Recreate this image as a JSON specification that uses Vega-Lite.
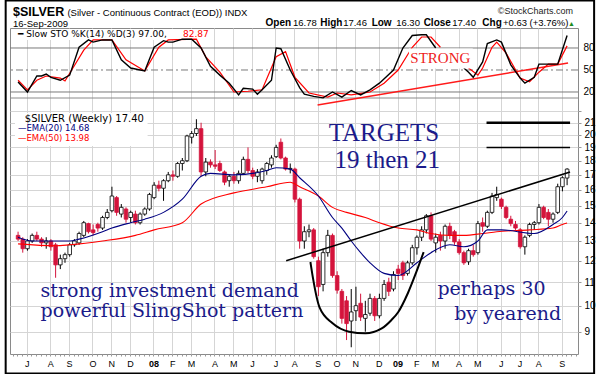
{
"$schema": "https://vega.github.io/schema/vega-lite/v6.json",
"width": 568, "height": 326,
"autosize": {"type": "none"},
"padding": {"left": 10, "top": 28, "right": 22, "bottom": 20},
"background": "white",
"config": {"view": {"stroke": "#8a8a8a", "strokeWidth": 1}},
"datasets": {
"candles": [
{"d":"2007-06-18","o":13.3,"h":13.5,"l":13.0,"c":13.1},
{"d":"2007-06-25","o":13.1,"h":13.2,"l":12.4,"c":12.6},
{"d":"2007-07-02","o":12.6,"h":13.1,"l":12.5,"c":13.0},
{"d":"2007-07-09","o":13.0,"h":13.4,"l":12.9,"c":13.3},
{"d":"2007-07-16","o":13.3,"h":13.5,"l":13.0,"c":13.1},
{"d":"2007-07-23","o":13.1,"h":13.2,"l":12.7,"c":12.9},
{"d":"2007-07-30","o":12.9,"h":13.2,"l":12.6,"c":13.0},
{"d":"2007-08-06","o":13.0,"h":13.1,"l":12.5,"c":12.7},
{"d":"2007-08-13","o":12.8,"h":12.9,"l":11.2,"c":11.8},
{"d":"2007-08-20","o":11.8,"h":12.3,"l":11.6,"c":12.1},
{"d":"2007-08-27","o":12.1,"h":12.4,"l":11.9,"c":12.3},
{"d":"2007-09-03","o":12.3,"h":12.9,"l":12.2,"c":12.8},
{"d":"2007-09-10","o":12.8,"h":13.1,"l":12.7,"c":13.0},
{"d":"2007-09-17","o":12.9,"h":13.5,"l":12.8,"c":13.4},
{"d":"2007-09-24","o":13.3,"h":14.1,"l":13.2,"c":14.0},
{"d":"2007-10-01","o":13.95,"h":14.0,"l":13.4,"c":13.5},
{"d":"2007-10-08","o":13.6,"h":13.9,"l":13.3,"c":13.45},
{"d":"2007-10-15","o":13.9,"h":14.0,"l":13.5,"c":13.7},
{"d":"2007-10-22","o":13.7,"h":14.4,"l":13.6,"c":14.3},
{"d":"2007-10-29","o":14.3,"h":14.8,"l":14.2,"c":14.6},
{"d":"2007-11-05","o":14.7,"h":16.2,"l":14.6,"c":15.6},
{"d":"2007-11-12","o":15.5,"h":15.6,"l":14.4,"c":14.6},
{"d":"2007-11-19","o":14.5,"h":15.1,"l":14.3,"c":14.9},
{"d":"2007-11-26","o":14.8,"h":14.9,"l":14.0,"c":14.2},
{"d":"2007-12-03","o":14.3,"h":14.7,"l":14.0,"c":14.6},
{"d":"2007-12-10","o":14.5,"h":14.7,"l":13.9,"c":14.0},
{"d":"2007-12-17","o":14.0,"h":14.6,"l":13.9,"c":14.5},
{"d":"2007-12-24","o":14.5,"h":14.9,"l":14.4,"c":14.8},
{"d":"2007-12-31","o":14.8,"h":15.8,"l":14.7,"c":15.7},
{"d":"2008-01-07","o":15.5,"h":16.5,"l":15.4,"c":16.3},
{"d":"2008-01-14","o":16.3,"h":16.6,"l":15.9,"c":16.1},
{"d":"2008-01-21","o":16.1,"h":16.7,"l":15.3,"c":16.6},
{"d":"2008-01-28","o":16.6,"h":17.2,"l":16.5,"c":17.0},
{"d":"2008-02-04","o":17.0,"h":17.3,"l":16.6,"c":16.9},
{"d":"2008-02-11","o":16.9,"h":17.9,"l":16.8,"c":17.8},
{"d":"2008-02-18","o":17.8,"h":18.2,"l":17.3,"c":18.0},
{"d":"2008-02-25","o":18.0,"h":20.0,"l":17.9,"c":19.9},
{"d":"2008-03-03","o":19.8,"h":20.3,"l":19.3,"c":20.1},
{"d":"2008-03-10","o":20.1,"h":21.3,"l":19.9,"c":20.5},
{"d":"2008-03-17","o":20.5,"h":21.0,"l":16.9,"c":17.2},
{"d":"2008-03-24","o":17.2,"h":18.2,"l":16.9,"c":17.9},
{"d":"2008-03-31","o":17.9,"h":18.1,"l":17.5,"c":17.7},
{"d":"2008-04-07","o":17.7,"h":18.8,"l":17.4,"c":17.6},
{"d":"2008-04-14","o":17.8,"h":18.0,"l":17.2,"c":17.3},
{"d":"2008-04-21","o":17.2,"h":17.3,"l":16.3,"c":16.5},
{"d":"2008-04-28","o":16.6,"h":17.0,"l":16.2,"c":16.9},
{"d":"2008-05-05","o":16.9,"h":17.2,"l":16.4,"c":16.6},
{"d":"2008-05-12","o":16.6,"h":17.3,"l":16.4,"c":17.1},
{"d":"2008-05-19","o":17.1,"h":18.3,"l":17.0,"c":18.1},
{"d":"2008-05-26","o":18.1,"h":19.0,"l":17.1,"c":17.3},
{"d":"2008-06-02","o":17.3,"h":17.5,"l":16.7,"c":16.9},
{"d":"2008-06-09","o":16.9,"h":17.4,"l":16.5,"c":17.2},
{"d":"2008-06-16","o":16.6,"h":17.5,"l":16.4,"c":17.4},
{"d":"2008-06-23","o":17.3,"h":17.9,"l":17.0,"c":17.8},
{"d":"2008-06-30","o":17.7,"h":18.4,"l":17.5,"c":18.2},
{"d":"2008-07-07","o":18.3,"h":19.2,"l":18.2,"c":19.0},
{"d":"2008-07-14","o":19.4,"h":19.7,"l":18.1,"c":18.2},
{"d":"2008-07-21","o":18.2,"h":18.3,"l":17.3,"c":17.4},
{"d":"2008-07-28","o":17.4,"h":17.8,"l":17.1,"c":17.45},
{"d":"2008-08-04","o":17.4,"h":17.5,"l":15.2,"c":15.4},
{"d":"2008-08-11","o":15.4,"h":15.5,"l":12.6,"c":13.0},
{"d":"2008-08-18","o":13.0,"h":13.8,"l":12.6,"c":13.5},
{"d":"2008-08-25","o":13.5,"h":13.9,"l":13.2,"c":13.6},
{"d":"2008-09-01","o":13.6,"h":13.7,"l":12.1,"c":12.2},
{"d":"2008-09-08","o":12.0,"h":12.2,"l":10.4,"c":10.8},
{"d":"2008-09-15","o":10.9,"h":12.6,"l":10.6,"c":12.4},
{"d":"2008-09-22","o":12.4,"h":13.6,"l":12.2,"c":13.3},
{"d":"2008-09-29","o":13.3,"h":13.4,"l":11.2,"c":11.3},
{"d":"2008-10-06","o":11.3,"h":11.5,"l":10.5,"c":10.65},
{"d":"2008-10-13","o":10.6,"h":10.7,"l":9.3,"c":9.5},
{"d":"2008-10-20","o":10.2,"h":10.4,"l":8.7,"c":9.3},
{"d":"2008-10-27","o":9.4,"h":10.7,"l":8.45,"c":9.75},
{"d":"2008-11-03","o":9.8,"h":10.8,"l":9.4,"c":10.0},
{"d":"2008-11-10","o":10.1,"h":10.5,"l":9.4,"c":9.55},
{"d":"2008-11-17","o":9.5,"h":10.2,"l":9.0,"c":9.65},
{"d":"2008-11-24","o":9.7,"h":10.5,"l":9.6,"c":10.3},
{"d":"2008-12-01","o":10.3,"h":10.4,"l":9.4,"c":9.6},
{"d":"2008-12-08","o":9.6,"h":10.5,"l":9.5,"c":10.3},
{"d":"2008-12-15","o":10.3,"h":11.1,"l":10.2,"c":10.9},
{"d":"2008-12-22","o":11.0,"h":11.2,"l":10.4,"c":10.6},
{"d":"2008-12-29","o":10.7,"h":11.5,"l":10.6,"c":11.35},
{"d":"2009-01-05","o":11.6,"h":11.8,"l":11.1,"c":11.4},
{"d":"2009-01-12","o":11.9,"h":12.0,"l":11.1,"c":11.3},
{"d":"2009-01-19","o":11.4,"h":12.0,"l":11.3,"c":11.9},
{"d":"2009-01-26","o":11.9,"h":12.8,"l":11.8,"c":12.65},
{"d":"2009-02-02","o":12.65,"h":13.3,"l":12.3,"c":13.2},
{"d":"2009-02-09","o":13.2,"h":13.8,"l":13.0,"c":13.6},
{"d":"2009-02-16","o":13.6,"h":14.5,"l":13.4,"c":14.4},
{"d":"2009-02-23","o":14.4,"h":14.6,"l":13.0,"c":13.1},
{"d":"2009-03-02","o":12.9,"h":13.4,"l":12.4,"c":13.2},
{"d":"2009-03-09","o":13.3,"h":13.5,"l":12.5,"c":13.0},
{"d":"2009-03-16","o":13.0,"h":13.9,"l":12.6,"c":13.8},
{"d":"2009-03-23","o":13.8,"h":14.0,"l":13.1,"c":13.3},
{"d":"2009-03-30","o":13.5,"h":13.6,"l":12.8,"c":12.95},
{"d":"2009-04-06","o":12.95,"h":13.1,"l":12.3,"c":12.4},
{"d":"2009-04-13","o":12.4,"h":12.5,"l":11.8,"c":11.9},
{"d":"2009-04-20","o":11.95,"h":12.6,"l":11.8,"c":12.5},
{"d":"2009-04-27","o":12.5,"h":12.8,"l":12.2,"c":12.3},
{"d":"2009-05-04","o":12.4,"h":14.1,"l":12.3,"c":13.95},
{"d":"2009-05-11","o":14.0,"h":14.3,"l":13.5,"c":13.8},
{"d":"2009-05-18","o":13.8,"h":14.7,"l":13.7,"c":14.6},
{"d":"2009-05-25","o":14.6,"h":15.8,"l":14.5,"c":15.6},
{"d":"2009-06-01","o":15.5,"h":16.2,"l":15.3,"c":15.7},
{"d":"2009-06-08","o":15.4,"h":15.5,"l":14.8,"c":14.95},
{"d":"2009-06-15","o":14.9,"h":15.0,"l":14.2,"c":14.3},
{"d":"2009-06-22","o":14.2,"h":14.4,"l":13.8,"c":13.95},
{"d":"2009-06-29","o":13.9,"h":14.1,"l":13.6,"c":13.7},
{"d":"2009-07-06","o":13.6,"h":13.7,"l":12.6,"c":12.7},
{"d":"2009-07-13","o":12.7,"h":13.3,"l":12.3,"c":13.2},
{"d":"2009-07-20","o":13.3,"h":14.0,"l":13.2,"c":13.9},
{"d":"2009-07-27","o":13.9,"h":14.1,"l":13.6,"c":14.0},
{"d":"2009-08-03","o":14.0,"h":15.1,"l":13.9,"c":14.9},
{"d":"2009-08-10","o":14.9,"h":15.0,"l":14.2,"c":14.3},
{"d":"2009-08-17","o":14.6,"h":14.8,"l":13.8,"c":14.2},
{"d":"2009-08-24","o":14.2,"h":14.6,"l":14.0,"c":14.5},
{"d":"2009-08-31","o":14.6,"h":16.4,"l":14.5,"c":16.2},
{"d":"2009-09-07","o":16.2,"h":16.9,"l":15.9,"c":16.8},
{"d":"2009-09-14","o":16.78,"h":17.46,"l":16.3,"c":17.4}
],
"stoK": [
{"d":"2007-06-18","v":33.6,"s":1},{"d":"2007-07-02","v":20,"s":1},{"d":"2007-07-16","v":41.8,"s":1},{"d":"2007-07-23","v":41.8,"s":1},{"d":"2007-07-30","v":44.5,"s":1},{"d":"2007-08-06","v":40,"s":1},{"d":"2007-08-20","v":36,"s":1},{"d":"2007-09-03","v":43,"s":1},{"d":"2007-09-17","v":81,"s":1},{"d":"2007-10-01","v":91,"s":1},{"d":"2007-10-08","v":88,"s":1},{"d":"2007-10-22","v":91,"s":1},{"d":"2007-11-05","v":91,"s":1},{"d":"2007-11-19","v":64,"s":1},{"d":"2007-12-03","v":52.7,"s":1},{"d":"2007-12-24","v":48.6,"s":1},{"d":"2008-01-07","v":81,"s":1},{"d":"2008-01-21","v":90,"s":1},{"d":"2008-01-28","v":88,"s":1},{"d":"2008-02-04","v":88,"s":1},{"d":"2008-02-18","v":92,"s":1},{"d":"2008-03-03","v":92,"s":1},{"d":"2008-03-17","v":80,"s":1},{"d":"2008-03-31","v":55,"s":1},{"d":"2008-04-14","v":43,"s":1},{"d":"2008-04-28","v":32,"s":1},{"d":"2008-05-12","v":16,"s":1},{"d":"2008-05-19","v":25,"s":1},{"d":"2008-06-02","v":24,"s":1},{"d":"2008-06-09","v":17,"s":1},{"d":"2008-06-16","v":23,"s":1},{"d":"2008-06-30","v":36,"s":1},{"d":"2008-07-07","v":80,"s":1},{"d":"2008-07-14","v":79,"s":1},{"d":"2008-07-28","v":50,"s":1},{"d":"2008-08-11","v":26,"s":1},{"d":"2008-08-18","v":17,"s":1},{"d":"2008-09-01","v":14,"s":1},{"d":"2008-09-15","v":12,"s":1},{"d":"2008-09-29","v":20,"s":1},{"d":"2008-10-13","v":13,"s":1},{"d":"2008-10-27","v":22,"s":1},{"d":"2008-11-10","v":16,"s":1},{"d":"2008-11-24","v":23,"s":1},{"d":"2008-12-08","v":32,"s":1},{"d":"2008-12-29","v":50,"s":1},{"d":"2009-01-12","v":80,"s":1},{"d":"2009-01-26","v":97,"s":1},{"d":"2009-02-09","v":98,"s":1},{"d":"2009-02-16","v":98,"s":1},{"d":"2009-03-02","v":80,"s":1},
{"d":"2009-04-13","v":52.7,"s":2},{"d":"2009-04-20","v":47,"s":2},{"d":"2009-04-27","v":40,"s":2},{"d":"2009-05-11","v":61,"s":2},{"d":"2009-05-18","v":86,"s":2},{"d":"2009-06-01","v":91,"s":2},{"d":"2009-06-08","v":88,"s":2},{"d":"2009-06-22","v":57,"s":2},{"d":"2009-07-06","v":39,"s":2},{"d":"2009-07-13","v":32,"s":2},{"d":"2009-07-27","v":40,"s":2},{"d":"2009-08-03","v":58,"s":2},{"d":"2009-08-17","v":58,"s":2},{"d":"2009-08-31","v":58,"s":2},{"d":"2009-09-14","v":97,"s":2}
],
"stoD": [
{"d":"2007-06-18","v":36,"s":1},{"d":"2007-07-02","v":23,"s":1},{"d":"2007-07-16","v":36,"s":1},{"d":"2007-07-30","v":41.8,"s":1},{"d":"2007-08-20","v":39,"s":1},{"d":"2007-08-27","v":35,"s":1},{"d":"2007-09-24","v":77,"s":1},{"d":"2007-10-08","v":91,"s":1},{"d":"2007-11-05","v":91,"s":1},{"d":"2007-11-26","v":64,"s":1},{"d":"2007-12-24","v":48.6,"s":1},{"d":"2008-01-14","v":81,"s":1},{"d":"2008-01-28","v":91,"s":1},{"d":"2008-03-10","v":92,"s":1},{"d":"2008-03-24","v":68,"s":1},{"d":"2008-04-14","v":47,"s":1},{"d":"2008-05-05","v":20,"s":1},{"d":"2008-05-26","v":21,"s":1},{"d":"2008-06-16","v":23,"s":1},{"d":"2008-07-07","v":68,"s":1},{"d":"2008-07-21","v":75,"s":1},{"d":"2008-08-04","v":40,"s":1},{"d":"2008-08-25","v":18.6,"s":1},{"d":"2008-09-22","v":13,"s":1},{"d":"2008-10-06","v":18.6,"s":1},{"d":"2008-10-27","v":16,"s":1},{"d":"2008-11-24","v":20,"s":1},{"d":"2008-12-15","v":32,"s":1},{"d":"2009-01-05","v":50,"s":1},{"d":"2009-01-26","v":81,"s":1},{"d":"2009-02-09","v":95,"s":1},{"d":"2009-02-23","v":95,"s":1},{"d":"2009-03-09","v":81,"s":1},
{"d":"2009-04-20","v":52.7,"s":2},{"d":"2009-05-04","v":43,"s":2},{"d":"2009-05-11","v":52.7,"s":2},{"d":"2009-05-25","v":81,"s":2},{"d":"2009-06-01","v":88,"s":2},{"d":"2009-06-15","v":73,"s":2},{"d":"2009-07-06","v":39,"s":2},{"d":"2009-07-20","v":34,"s":2},{"d":"2009-08-03","v":47,"s":2},{"d":"2009-08-17","v":58,"s":2},{"d":"2009-08-31","v":58,"s":2},{"d":"2009-09-14","v":82.87,"s":2}
],
"ema20": [
{"d":"2007-06-18","v":13.2},{"d":"2007-07-09","v":13.0},{"d":"2007-08-13","v":13.0},{"d":"2007-09-03","v":13.0},{"d":"2007-09-17","v":13.1},{"d":"2007-10-22","v":13.5},{"d":"2007-11-05","v":13.7},{"d":"2007-12-03","v":14.0},{"d":"2007-12-24","v":14.2},{"d":"2008-01-21","v":14.6},{"d":"2008-02-18","v":15.4},{"d":"2008-03-17","v":16.9},{"d":"2008-03-31","v":17.1},{"d":"2008-05-05","v":17.0},{"d":"2008-06-23","v":17.3},{"d":"2008-07-07","v":17.5},{"d":"2008-07-28","v":17.4},{"d":"2008-08-11","v":16.8},{"d":"2008-09-08","v":15.6},{"d":"2008-09-29","v":14.3},{"d":"2008-10-13","v":13.7},{"d":"2008-10-27","v":13.0},{"d":"2008-11-10","v":12.4},{"d":"2008-11-24","v":11.9},{"d":"2008-12-15","v":11.4},{"d":"2009-01-05","v":11.3},{"d":"2009-02-02","v":11.9},{"d":"2009-02-23","v":12.4},{"d":"2009-03-23","v":12.8},{"d":"2009-04-13","v":12.7},{"d":"2009-05-04","v":13.0},{"d":"2009-05-18","v":13.6},{"d":"2009-06-08","v":13.6},{"d":"2009-07-27","v":13.4},{"d":"2009-08-24","v":13.9},{"d":"2009-09-07","v":14.3},{"d":"2009-09-14","v":14.68}
],
"ema50": [
{"d":"2007-06-18","v":12.85},{"d":"2007-08-13","v":12.75},{"d":"2007-09-03","v":12.8},{"d":"2007-10-22","v":13.0},{"d":"2007-12-10","v":13.3},{"d":"2008-01-07","v":13.6},{"d":"2008-02-18","v":14.0},{"d":"2008-03-17","v":15.1},{"d":"2008-05-05","v":15.8},{"d":"2008-06-23","v":16.2},{"d":"2008-07-28","v":16.5},{"d":"2008-08-11","v":16.2},{"d":"2008-09-08","v":15.6},{"d":"2008-09-29","v":14.9},{"d":"2008-10-20","v":14.6},{"d":"2008-11-17","v":14.3},{"d":"2008-12-08","v":14.0},{"d":"2009-01-05","v":13.7},{"d":"2009-02-02","v":13.6},{"d":"2009-02-23","v":13.4},{"d":"2009-03-23","v":13.3},{"d":"2009-04-13","v":13.3},{"d":"2009-05-11","v":13.4},{"d":"2009-06-01","v":13.5},{"d":"2009-07-20","v":13.6},{"d":"2009-08-24","v":13.7},{"d":"2009-09-07","v":13.9},{"d":"2009-09-14","v":13.98}
],
"arc": [
{"d":"2008-08-27T02:00","p":11.94},{"d":"2008-08-30T22:00","p":11.18},{"d":"2008-09-09T17:00","p":9.93},{"d":"2008-09-29T05:00","p":9.31},{"d":"2008-10-23T17:00","p":9.0},{"d":"2008-11-17T02:00","p":8.94},{"d":"2008-12-11T12:00","p":9.12},{"d":"2008-12-25T17:00","p":9.43},{"d":"2009-01-04T22:00","p":9.74},{"d":"2009-01-19T14:00","p":10.53},{"d":"2009-01-31T07:00","p":11.4},{"d":"2009-02-12T00:00","p":12.43}
]
},
"resolve": {"scale": {"y": "independent"}},
"layer": [
{"data": {"name": "candles"}, "mark": {"type": "rule", "strokeWidth": 1},
 "encoding": {"x": {"field": "d", "type": "temporal", "scale": {"domain": [{"year": 2007, "month": 6, "date": 13, "hours": 10}, {"year": 2009, "month": 9, "date": 22, "hours": 19}]},
   "axis": {"orient": "bottom", "title": null, "domain": false, "tickCount": {"interval": "week", "step": 1}, "tickSize": 2, "tickColor": "#999",
    "labelExpr": "date(datum.value) <= 7 ? (month(datum.value) == 0 ? timeFormat(datum.value, '%y') : slice(timeFormat(datum.value, '%b'), 0, 1)) : ''",
    "labelOverlap": false, "labelFlush": false, "labelFontSize": 9, "labelPadding": 3, "labelFont": "Liberation Sans", "labelColor": "#000",
    "labelFontWeight": {"condition": {"test": "month(datum.value) == 0", "value": "bold"}, "value": "normal"},
    "grid": true, "gridColor": "#d5d5d5", "gridOpacity": {"condition": {"test": "date(datum.value) <= 7", "value": 1}, "value": 0}}},
  "y": {"field": "l", "type": "quantitative", "scale": {"type": "log", "domain": [8.222, 30.83], "nice": false},
   "axis": {"orient": "right", "values": [9, 10, 11, 12, 13, 14, 15, 16, 17, 18, 19, 20, 21, 22], "format": "d", "labelExpr": "datum.value == 22 ? '' : datum.label", "title": null, "domain": false, "grid": true, "gridColor": "#d5d5d5", "tickSize": 3, "tickColor": "#999", "labelPadding": 3, "labelFontSize": 10, "labelFont": "Liberation Sans", "labelColor": "#000"}},
  "y2": {"field": "h"},
  "color": {"condition": {"test": "datum.c >= datum.o", "value": "#000000"}, "value": "#d4143c"}}},
{"data": {"values": [{"v": 80}, {"v": 20}]}, "mark": {"type": "rule", "color": "#7a7a7a", "strokeWidth": 1},
 "encoding": {"y": {"field": "v", "type": "quantitative", "scale": {"domain": [-337.28, 107.27], "nice": false, "zero": false}, "axis": {"orient": "right", "values": [20, 50, 80], "grid": false, "domain": false, "ticks": false, "labelPadding": 5, "labelFontSize": 10, "labelFont": "Liberation Sans", "labelColor": "#000", "title": null}}}},
{"data": {"values": [{"v": 50}]}, "mark": {"type": "rule", "color": "#7a7a7a", "strokeWidth": 1, "strokeDash": [7, 3, 2, 3]},
 "encoding": {"y": {"field": "v", "type": "quantitative", "scale": {"domain": [-337.28, 107.27], "nice": false, "zero": false}, "axis": null}}},
{"data": {"values": [{"v": 11.8}]}, "mark": {"type": "rule", "color": "#8a8a8a", "strokeWidth": 1},
 "encoding": {"y": {"field": "v", "type": "quantitative", "scale": {"domain": [-337.28, 107.27], "nice": false, "zero": false}, "axis": null}}},
{"data": {"values": [{"d": "2007-06-13T10:00", "d2": "2008-04-01T12:00", "v": 90.9, "v2": 105.9}]}, "mark": {"type": "rect", "fill": "#ffffff"},
 "encoding": {"x": {"field": "d", "type": "temporal", "scale": {"domain": [{"year": 2007, "month": 6, "date": 13, "hours": 10}, {"year": 2009, "month": 9, "date": 22, "hours": 19}]}}, "x2": {"field": "d2"},
  "y": {"field": "v", "type": "quantitative", "scale": {"domain": [-337.28, 107.27], "nice": false, "zero": false}, "axis": null}, "y2": {"field": "v2"}}},
{"data": {"values": [{"d": "2008-09-06T19:00", "d2": "2009-09-15T10:00", "v": 2.3, "v2": 59.5}]}, "mark": {"type": "rule", "color": "#ff1a1a", "strokeWidth": 1.5},
 "encoding": {"x": {"field": "d", "type": "temporal", "scale": {"domain": [{"year": 2007, "month": 6, "date": 13, "hours": 10}, {"year": 2009, "month": 9, "date": 22, "hours": 19}]}}, "x2": {"field": "d2"},
  "y": {"field": "v", "type": "quantitative", "scale": {"domain": [-337.28, 107.27], "nice": false, "zero": false}, "axis": null}, "y2": {"field": "v2"}}},
{"data": {"name": "stoD"}, "mark": {"type": "line", "color": "#ff0000", "strokeWidth": 1.2},
 "encoding": {"x": {"field": "d", "type": "temporal", "scale": {"domain": [{"year": 2007, "month": 6, "date": 13, "hours": 10}, {"year": 2009, "month": 9, "date": 22, "hours": 19}]}},
  "y": {"field": "v", "type": "quantitative", "scale": {"domain": [-337.28, 107.27], "nice": false, "zero": false}, "axis": null}, "detail": {"field": "s"}}},
{"data": {"name": "stoK"}, "mark": {"type": "line", "color": "#000000", "strokeWidth": 1.4},
 "encoding": {"x": {"field": "d", "type": "temporal", "scale": {"domain": [{"year": 2007, "month": 6, "date": 13, "hours": 10}, {"year": 2009, "month": 9, "date": 22, "hours": 19}]}},
  "y": {"field": "v", "type": "quantitative", "scale": {"domain": [-337.28, 107.27], "nice": false, "zero": false}, "axis": null}, "detail": {"field": "s"}}},
{"data": {"values": [{"d": "2009-01-21T00:00", "d2": "2009-04-26T07:00", "v": 52, "v2": 79.3}]}, "mark": {"type": "rect", "fill": "#ffffff"},
 "encoding": {"x": {"field": "d", "type": "temporal", "scale": {"domain": [{"year": 2007, "month": 6, "date": 13, "hours": 10}, {"year": 2009, "month": 9, "date": 22, "hours": 19}]}}, "x2": {"field": "d2"},
  "y": {"field": "v", "type": "quantitative", "scale": {"domain": [-337.28, 107.27], "nice": false, "zero": false}, "axis": null}, "y2": {"field": "v2"}}},
{"data": {"values": [{"d": "2009-03-08T22:00", "v": 59.5, "t": "STRONG"}]}, "mark": {"type": "text", "font": "Liberation Serif", "fontSize": 15, "color": "#ee1c1c", "align": "center", "baseline": "alphabetic"},
 "encoding": {"x": {"field": "d", "type": "temporal", "scale": {"domain": [{"year": 2007, "month": 6, "date": 13, "hours": 10}, {"year": 2009, "month": 9, "date": 22, "hours": 19}]}},
  "y": {"field": "v", "type": "quantitative", "scale": {"domain": [-337.28, 107.27], "nice": false, "zero": false}, "axis": null}, "text": {"field": "t"}}},
{"data": {"values": [{"d": "2007-06-10T12:00", "v": 123.6, "t": "$SILVER"}]}, "mark": {"type": "text", "font": "Liberation Sans", "fontSize": 12.5, "fontWeight": "bold", "color": "#000", "align": "left", "baseline": "alphabetic"},
 "encoding": {"x": {"field": "d", "type": "temporal", "scale": {"domain": [{"year": 2007, "month": 6, "date": 13, "hours": 10}, {"year": 2009, "month": 9, "date": 22, "hours": 19}]}},
  "y": {"field": "v", "type": "quantitative", "scale": {"domain": [-337.28, 107.27], "nice": false, "zero": false}, "axis": null}, "text": {"field": "t"}}},
{"data": {"values": [{"d": "2007-08-30T15:00", "v": 123.3, "t": "(Silver - Continuous Contract (EOD)) INDX"}, {"d": "2007-06-10T12:00", "v": 109.3, "t": "16-Sep-2009"}, {"d": "2008-08-01T02:00", "v": 109.6, "t": "16.78"}, {"d": "2008-10-14T22:00", "v": 109.6, "t": "17.46"}, {"d": "2009-01-02T00:00", "v": 109.6, "t": "16.30"}, {"d": "2009-03-26T12:00", "v": 109.6, "t": "17.40"}, {"d": "2009-06-10T07:00", "v": 109.6, "t": "+0.63 (+3.76%)"}]},
 "mark": {"type": "text", "font": "Liberation Sans", "fontSize": 9.5, "color": "#000", "align": "left", "baseline": "alphabetic"},
 "encoding": {"x": {"field": "d", "type": "temporal", "scale": {"domain": [{"year": 2007, "month": 6, "date": 13, "hours": 10}, {"year": 2009, "month": 9, "date": 22, "hours": 19}]}},
  "y": {"field": "v", "type": "quantitative", "scale": {"domain": [-337.28, 107.27], "nice": false, "zero": false}, "axis": null}, "text": {"field": "t"}}},
{"data": {"values": [{"d": "2008-06-21T02:00", "v": 109.6, "t": "Open"}, {"d": "2008-09-10T17:00", "v": 109.6, "t": "High"}, {"d": "2008-11-26T10:00", "v": 109.6, "t": "Low"}, {"d": "2009-02-12T00:00", "v": 109.6, "t": "Close"}, {"d": "2009-05-10T12:00", "v": 109.6, "t": "Chg"}]},
 "mark": {"type": "text", "font": "Liberation Sans", "fontSize": 10, "fontWeight": "bold", "color": "#000", "align": "left", "baseline": "alphabetic"},
 "encoding": {"x": {"field": "d", "type": "temporal", "scale": {"domain": [{"year": 2007, "month": 6, "date": 13, "hours": 10}, {"year": 2009, "month": 9, "date": 22, "hours": 19}]}},
  "y": {"field": "v", "type": "quantitative", "scale": {"domain": [-337.28, 107.27], "nice": false, "zero": false}, "axis": null}, "text": {"field": "t"}}},
{"data": {"values": [{"d": "2009-09-15T10:00", "v": 110.6, "t": "▲"}]}, "mark": {"type": "text", "fontSize": 7, "color": "#1e8c1e", "align": "left", "baseline": "alphabetic"},
 "encoding": {"x": {"field": "d", "type": "temporal", "scale": {"domain": [{"year": 2007, "month": 6, "date": 13, "hours": 10}, {"year": 2009, "month": 9, "date": 22, "hours": 19}]}},
  "y": {"field": "v", "type": "quantitative", "scale": {"domain": [-337.28, 107.27], "nice": false, "zero": false}, "axis": null}, "text": {"field": "t"}}},
{"data": {"values": [{"d": "2009-09-22T19:00", "v": 125.7, "t": "©StockCharts.com"}]}, "mark": {"type": "text", "font": "Liberation Sans", "fontSize": 9, "color": "#222", "align": "right", "baseline": "alphabetic"},
 "encoding": {"x": {"field": "d", "type": "temporal", "scale": {"domain": [{"year": 2007, "month": 6, "date": 13, "hours": 10}, {"year": 2009, "month": 9, "date": 22, "hours": 19}]}},
  "y": {"field": "v", "type": "quantitative", "scale": {"domain": [-337.28, 107.27], "nice": false, "zero": false}, "axis": null}, "text": {"field": "t"}}},
{"data": {"values": [{"d": "2007-06-17T19:00", "v": 95.4, "t": "━ Slow STO %K(14) %D(3) 97.00,"}]}, "mark": {"type": "text", "font": "DejaVu Sans", "fontSize": 9, "color": "#000", "align": "left", "baseline": "alphabetic"},
 "encoding": {"x": {"field": "d", "type": "temporal", "scale": {"domain": [{"year": 2007, "month": 6, "date": 13, "hours": 10}, {"year": 2009, "month": 9, "date": 22, "hours": 19}]}},
  "y": {"field": "v", "type": "quantitative", "scale": {"domain": [-337.28, 107.27], "nice": false, "zero": false}, "axis": null}, "text": {"field": "t"}}},
{"data": {"values": [{"d": "2008-02-19T00:00", "v": 95.4, "t": "82.87"}]}, "mark": {"type": "text", "font": "DejaVu Sans", "fontSize": 9, "color": "#ff0000", "align": "left", "baseline": "alphabetic"},
 "encoding": {"x": {"field": "d", "type": "temporal", "scale": {"domain": [{"year": 2007, "month": 6, "date": 13, "hours": 10}, {"year": 2009, "month": 9, "date": 22, "hours": 19}]}},
  "y": {"field": "v", "type": "quantitative", "scale": {"domain": [-337.28, 107.27], "nice": false, "zero": false}, "axis": null}, "text": {"field": "t"}}},
{"data": {"name": "candles"}, "mark": {"type": "bar", "width": 3.6, "strokeWidth": 0.8},
 "encoding": {"x": {"field": "d", "type": "temporal", "scale": {"domain": [{"year": 2007, "month": 6, "date": 13, "hours": 10}, {"year": 2009, "month": 9, "date": 22, "hours": 19}]}},
  "y": {"field": "o", "type": "quantitative", "scale": {"type": "log", "domain": [8.222, 30.83], "nice": false}, "axis": null},
  "y2": {"field": "c"},
  "fill": {"condition": {"test": "datum.c >= datum.o", "value": "#ffffff"}, "value": "#d4143c"},
  "stroke": {"condition": {"test": "datum.c >= datum.o", "value": "#000000"}, "value": "#d4143c"}}},
{"data": {"name": "ema50"}, "mark": {"type": "line", "color": "#ff0000", "strokeWidth": 1.1, "interpolate": "monotone"},
 "encoding": {"x": {"field": "d", "type": "temporal", "scale": {"domain": [{"year": 2007, "month": 6, "date": 13, "hours": 10}, {"year": 2009, "month": 9, "date": 22, "hours": 19}]}},
  "y": {"field": "v", "type": "quantitative", "scale": {"type": "log", "domain": [8.222, 30.83], "nice": false}, "axis": null}}},
{"data": {"name": "ema20"}, "mark": {"type": "line", "color": "#000080", "strokeWidth": 1.1, "interpolate": "monotone"},
 "encoding": {"x": {"field": "d", "type": "temporal", "scale": {"domain": [{"year": 2007, "month": 6, "date": 13, "hours": 10}, {"year": 2009, "month": 9, "date": 22, "hours": 19}]}},
  "y": {"field": "v", "type": "quantitative", "scale": {"type": "log", "domain": [8.222, 30.83], "nice": false}, "axis": null}}},
{"data": {"values": [{"d": "2008-07-21T22:00", "d2": "2009-09-18T10:00", "p": 12.0, "p2": 17.2}]}, "mark": {"type": "rule", "color": "#000", "strokeWidth": 1.5},
 "encoding": {"x": {"field": "d", "type": "temporal", "scale": {"domain": [{"year": 2007, "month": 6, "date": 13, "hours": 10}, {"year": 2009, "month": 9, "date": 22, "hours": 19}]}}, "x2": {"field": "d2"},
  "y": {"field": "p", "type": "quantitative", "scale": {"type": "log", "domain": [8.222, 30.83], "nice": false}, "axis": null}, "y2": {"field": "p2"}}},
{"data": {"values": [{"d": "2009-05-16T19:00", "d2": "2009-09-18T10:00", "p": 21}]}, "mark": {"type": "rule", "color": "#000", "strokeWidth": 2.5},
 "encoding": {"x": {"field": "d", "type": "temporal", "scale": {"domain": [{"year": 2007, "month": 6, "date": 13, "hours": 10}, {"year": 2009, "month": 9, "date": 22, "hours": 19}]}}, "x2": {"field": "d2"},
  "y": {"field": "p", "type": "quantitative", "scale": {"type": "log", "domain": [8.222, 30.83], "nice": false}, "axis": null}}},
{"data": {"values": [{"d": "2009-05-16T19:00", "d2": "2009-09-18T10:00", "p": 19}]}, "mark": {"type": "rule", "color": "#000", "strokeWidth": 1.5},
 "encoding": {"x": {"field": "d", "type": "temporal", "scale": {"domain": [{"year": 2007, "month": 6, "date": 13, "hours": 10}, {"year": 2009, "month": 9, "date": 22, "hours": 19}]}}, "x2": {"field": "d2"},
  "y": {"field": "p", "type": "quantitative", "scale": {"type": "log", "domain": [8.222, 30.83], "nice": false}, "axis": null}}},
{"data": {"name": "arc"}, "mark": {"type": "line", "color": "#000", "strokeWidth": 2, "interpolate": "monotone"},
 "encoding": {"x": {"field": "d", "type": "temporal", "scale": {"domain": [{"year": 2007, "month": 6, "date": 13, "hours": 10}, {"year": 2009, "month": 9, "date": 22, "hours": 19}]}},
  "y": {"field": "p", "type": "quantitative", "scale": {"type": "log", "domain": [8.222, 30.83], "nice": false}, "axis": null}}},
{"data": {"values": [{"d": "2007-06-13T10:00", "d2": "2007-12-28T05:00", "p": 19.1, "p2": 21.84}]}, "mark": {"type": "rect", "fill": "#ffffff"},
 "encoding": {"x": {"field": "d", "type": "temporal", "scale": {"domain": [{"year": 2007, "month": 6, "date": 13, "hours": 10}, {"year": 2009, "month": 9, "date": 22, "hours": 19}]}}, "x2": {"field": "d2"},
  "y": {"field": "p", "type": "quantitative", "scale": {"type": "log", "domain": [8.222, 30.83], "nice": false}, "axis": null}, "y2": {"field": "p2"}}},
{"data": {"values": [{"d": "2007-06-28T02:00", "p": 21.08, "t": "$SILVER (Weekly) 17.40"}]}, "mark": {"type": "text", "font": "DejaVu Sans", "fontSize": 10, "color": "#000", "align": "left", "baseline": "alphabetic"},
 "encoding": {"x": {"field": "d", "type": "temporal", "scale": {"domain": [{"year": 2007, "month": 6, "date": 13, "hours": 10}, {"year": 2009, "month": 9, "date": 22, "hours": 19}]}},
  "y": {"field": "p", "type": "quantitative", "scale": {"type": "log", "domain": [8.222, 30.83], "nice": false}, "axis": null}, "text": {"field": "t"}}},
{"data": {"values": [{"d": "2007-06-17T19:00", "p": 20.33, "t": "—EMA(20) 14.68"}]}, "mark": {"type": "text", "font": "DejaVu Sans", "fontSize": 8.5, "color": "#000080", "align": "left", "baseline": "alphabetic"},
 "encoding": {"x": {"field": "d", "type": "temporal", "scale": {"domain": [{"year": 2007, "month": 6, "date": 13, "hours": 10}, {"year": 2009, "month": 9, "date": 22, "hours": 19}]}},
  "y": {"field": "p", "type": "quantitative", "scale": {"type": "log", "domain": [8.222, 30.83], "nice": false}, "axis": null}, "text": {"field": "t"}}},
{"data": {"values": [{"d": "2007-06-17T19:00", "p": 19.52, "t": "—EMA(50) 13.98"}]}, "mark": {"type": "text", "font": "DejaVu Sans", "fontSize": 8.5, "color": "#ff0000", "align": "left", "baseline": "alphabetic"},
 "encoding": {"x": {"field": "d", "type": "temporal", "scale": {"domain": [{"year": 2007, "month": 6, "date": 13, "hours": 10}, {"year": 2009, "month": 9, "date": 22, "hours": 19}]}},
  "y": {"field": "p", "type": "quantitative", "scale": {"type": "log", "domain": [8.222, 30.83], "nice": false}, "axis": null}, "text": {"field": "t"}}},
{"data": {"values": [{"d": "2008-12-14T17:00", "p": 19.46, "t": "TARGETS"}, {"d": "2008-12-19T19:00", "p": 17.45, "t": "19 then 21"}]}, "mark": {"type": "text", "font": "Liberation Serif", "fontSize": 25, "color": "#1b1b8a", "align": "center", "baseline": "alphabetic"},
 "encoding": {"x": {"field": "d", "type": "temporal", "scale": {"domain": [{"year": 2007, "month": 6, "date": 13, "hours": 10}, {"year": 2009, "month": 9, "date": 22, "hours": 19}]}},
  "y": {"field": "p", "type": "quantitative", "scale": {"type": "log", "domain": [8.222, 30.83], "nice": false}, "axis": null}, "text": {"field": "t"}}},
{"data": {"values": [{"d": "2007-07-21T12:00", "p": 10.37, "t": "strong investment demand"}, {"d": "2007-07-21T12:00", "p": 9.57, "t": "powerful SlingShot pattern"}, {"d": "2009-03-04T12:00", "p": 10.44, "t": "perhaps 30"}, {"d": "2009-03-29T12:00", "p": 9.44, "t": "by yearend"}]},
 "mark": {"type": "text", "font": "DejaVu Serif", "fontSize": 19, "color": "#1b1b8a", "align": "left", "baseline": "alphabetic"},
 "encoding": {"x": {"field": "d", "type": "temporal", "scale": {"domain": [{"year": 2007, "month": 6, "date": 13, "hours": 10}, {"year": 2009, "month": 9, "date": 22, "hours": 19}]}},
  "y": {"field": "p", "type": "quantitative", "scale": {"type": "log", "domain": [8.222, 30.83], "nice": false}, "axis": null}, "text": {"field": "t"}}},
{"data": {"values": [{"d": "2007-05-30T12:00", "d2": "2009-10-24T07:00", "v": -363.87, "v2": 144.77}]}, "mark": {"type": "rect", "fillOpacity": 0, "stroke": "#000", "strokeWidth": 2},
 "encoding": {"x": {"field": "d", "type": "temporal", "scale": {"domain": [{"year": 2007, "month": 6, "date": 13, "hours": 10}, {"year": 2009, "month": 9, "date": 22, "hours": 19}]}}, "x2": {"field": "d2"},
  "y": {"field": "v", "type": "quantitative", "scale": {"domain": [-337.28, 107.27], "nice": false, "zero": false}, "axis": null}, "y2": {"field": "v2"}}}
]
}
